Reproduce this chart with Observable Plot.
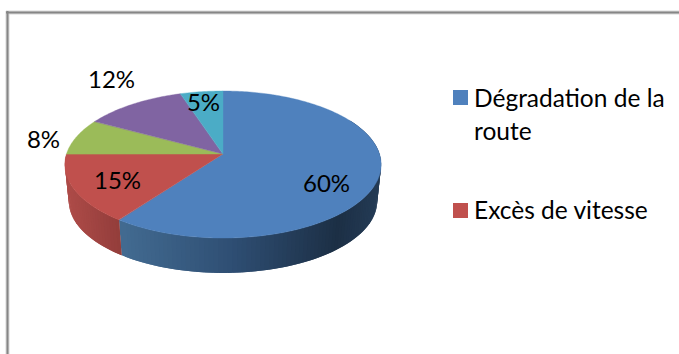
<!DOCTYPE html>
<html lang="fr">
<head>
<meta charset="utf-8">
<style>
  html, body { margin: 0; padding: 0; background: #fff; }
  svg { display: block; }
</style>
<script src="https://cdn.jsdelivr.net/npm/d3@7"></script>
<script src="https://cdn.jsdelivr.net/npm/@observablehq/plot@0.6"></script>
</head>
<body>
<div id="chart"></div>
<script>
// Slice shares, clockwise from twelve o'clock
const shares = [60, 15, 8, 12, 5];
const sliceColors = ["#4f81bd", "#c0504d", "#9bbb59", "#8064a2", "#4bacc6"];
const legendNames = [["Dégradation de la", "route"], ["Excès de vitesse"]];

const W = 679, H = 354;

// Perspective disc: the rim is a projected circle, the base a slightly smaller copy below it
const cx = 223, cy = 154, rx = 156.5, ry = 72, tilt = -0.143;
const baseShrink = 0.975, baseDrop = 37;

function rim(deg) {
  const a = deg * Math.PI / 180, u = Math.sin(a), v = -Math.cos(a), w = 1 + tilt * v;
  return { X: u / w, Y: v / w };
}
const top3d = deg => { const p = rim(deg); return { x: cx + rx * p.X, y: cy + ry * p.Y }; };
const base3d = deg => {
  const p = rim(deg);
  return { x: cx + rx * baseShrink * p.X, y: cy + baseDrop + ry * baseShrink * p.Y };
};

// Angular extent of each slice, from the shares
let running = 0;
const slices = shares.map((s, i) => {
  const start = running * 3.6; running += s;
  return { i, share: s, start, end: running * 3.6, color: sliceColors[i] };
});

const arcAngles = (a, b, step) => {
  const n = Math.max(1, Math.ceil((b - a) / step));
  return d3.range(n + 1).map(k => a + (b - a) * k / n);
};

// Top face: a fan from the apex out to the rim
const faceRows = slices.flatMap(s => arcAngles(s.start, s.end, 1).map(deg => {
  const p = top3d(deg);
  return { key: s.i, color: s.color, x1: cx, y1: cy, x2: p.x, y2: p.y };
}));

// Outer wall shading, darkening toward the right on the blue slice
const blueWall = d3.scaleLinear().domain([125, 225, 335, 378])
  .range(["#41698f", "#2f4f74", "#1c2f45", "#243b55"]);
const redWall = d3.scaleLinear().domain([70, 123]).range(["#ab4a47", "#8f3b39"]);

// Each strip reaches back over its neighbour so no seam shows between them
function wallRows(s, shade, from, to) {
  const step = 1.5;
  return d3.pairs(arcAngles(from, to, step)).flatMap(([a, b], j) => {
    const color = shade(top3d((a + b) / 2).x);
    return [Math.max(from, a - step), b].map(deg => {
      const t = top3d(deg), f = base3d(deg);
      return { key: `${s.i}-${j}`, color, x1: t.x, y1: t.y, x2: f.x, y2: f.y };
    });
  });
}
const wallData = [
  ...wallRows(slices[0], blueWall, 60, slices[0].end),
  ...wallRows(slices[1], redWall, slices[1].start, slices[1].end)
];

// Percentage labels, one per slice
const labelSpots = [[326, 184], [117, 181], [43, 140], [111, 80], [203, 103]];
const labelRows = shares.map((s, i) => ({ text: `${s}%`, x: labelSpots[i][0], y: labelSpots[i][1] }));

// Legend entries
const legendSwatches = [
  { x1: 453, x2: 468, y1: 90, y2: 105, color: sliceColors[0] },
  { x1: 453, x2: 468, y1: 203, y2: 218, color: sliceColors[1] }
];
const legendLines = [
  { text: legendNames[0][0], x: 473.5, y: 106 },
  { text: legendNames[0][1], x: 473.5, y: 139 },
  { text: legendNames[1][0], x: 473.5, y: 218 }
];

const chart = Plot.plot({
  width: W, height: H,
  margin: 0,
  x: { domain: [0, W], range: [0, W], axis: null },
  y: { domain: [0, H], range: [0, H], axis: null },
  color: { type: "identity" },
  style: { background: "#fff", fontFamily: "Lato, sans-serif" },
  marks: [
    // Chart frame, open toward the right and bottom edges
    Plot.ruleY([12], { x1: 6, x2: W, stroke: "#d8d8d8", strokeWidth: 4 }),
    Plot.ruleX([7], { y1: 11, y2: H, stroke: "#d8d8d8", strokeWidth: 4 }),
    Plot.ruleY([12], { x1: 6, x2: W, stroke: "#868686", strokeWidth: 2 }),
    Plot.ruleX([7], { y1: 11, y2: H, stroke: "#868686", strokeWidth: 2 }),

    Plot.area(wallData, {
      x1: "x1", y1: "y1", x2: "x2", y2: "y2", z: "key", fill: "color"
    }),
    Plot.area(faceRows, {
      x1: "x1", y1: "y1", x2: "x2", y2: "y2", z: "key",
      fill: "color", stroke: "color", strokeWidth: 0.4
    }),

    Plot.text(labelRows, {
      x: "x", y: "y", text: "text", fontSize: 24, fill: "#000", textAnchor: "middle",
      style: { letterSpacing: "-1px" }
    }),

    Plot.rect(legendSwatches, { x1: "x1", x2: "x2", y1: "y1", y2: "y2", fill: "color" }),
    Plot.text(legendLines, {
      x: "x", y: "y", text: "text", fontSize: 24.5, fill: "#000",
      textAnchor: "start", lineAnchor: "bottom", dy: 0,
      style: { fontVariantLigatures: "none" }
    })
  ]
});
document.getElementById("chart").appendChild(chart);
</script>
</body>
</html>
